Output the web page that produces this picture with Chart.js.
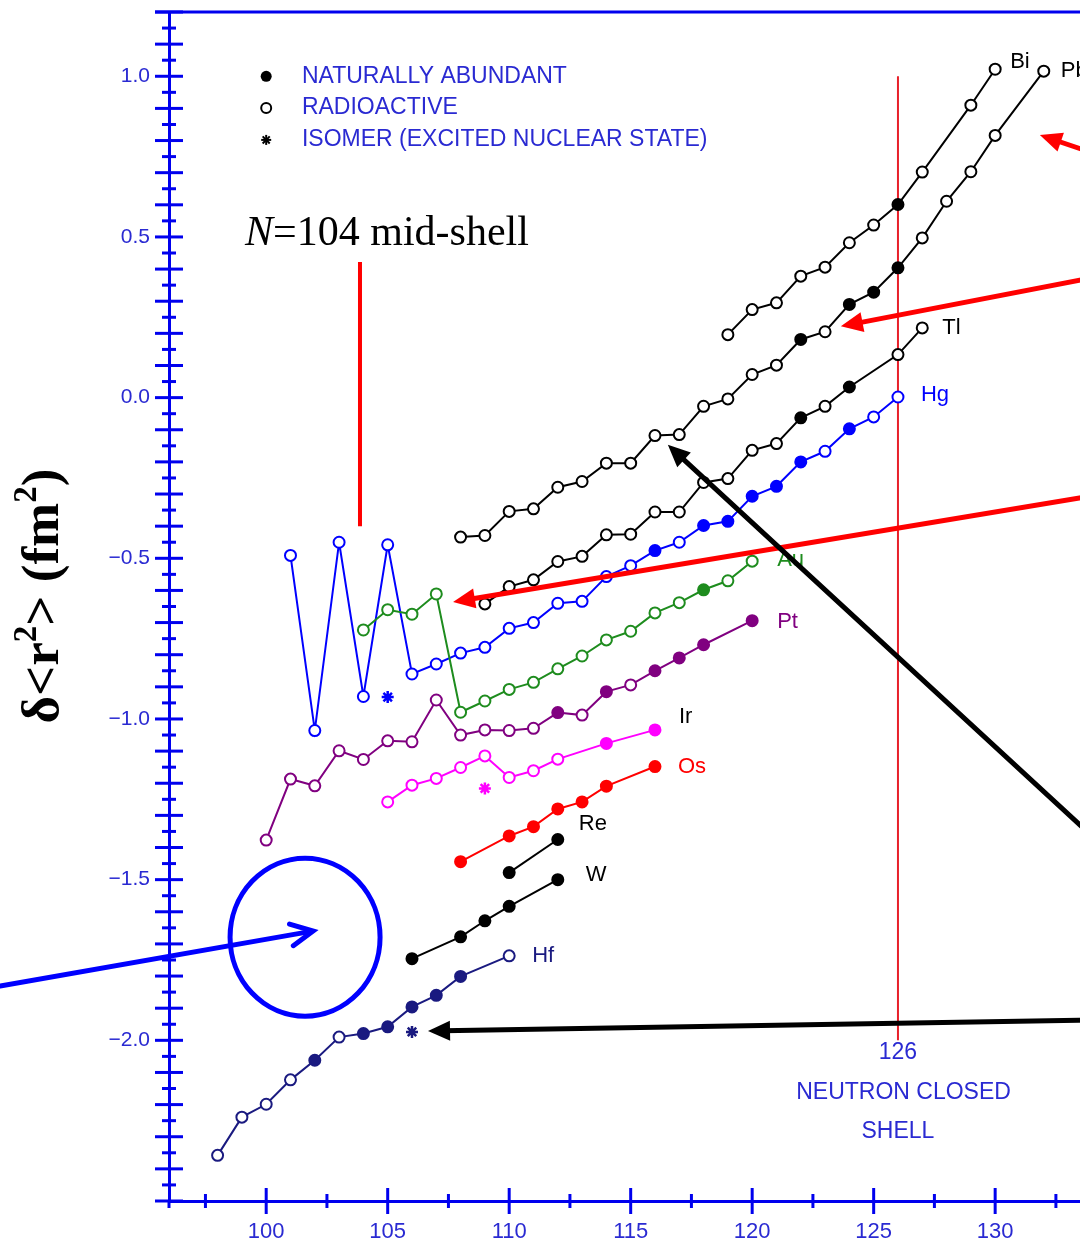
<!DOCTYPE html>
<html><head><meta charset="utf-8">
<script src="https://cdn.jsdelivr.net/npm/chart.js@4.4.1/dist/chart.umd.min.js"></script>
<style>
html,body{margin:0;padding:0;background:#fff;overflow:hidden;width:1080px;height:1240px}
#wrap{position:relative;width:1080px;height:1240px;overflow:hidden;background:#fff}
canvas{display:block}
</style></head>
<body><div id="wrap"><canvas id="c" width="1200" height="1240"></canvas></div>
<script>
// ---------- DATA (neutron number N, delta<r^2> in fm^2, 1 = naturally abundant) ----------
const hfN = [98,99,100,101,102,103,104,105,106,107,108,110];
const hfR = [-2.358,-2.239,-2.199,-2.123,-2.062,-1.990,-1.979,-1.958,-1.896,-1.860,-1.801,-1.737];
const hfNat = [0,0,0,0,1,0,1,1,1,1,1,0];

const wN = [106,108,109,110,112];
const wR = [-1.746,-1.678,-1.628,-1.583,-1.500];
const wNat = [1,1,1,1,1];

const reN = [110,112];
const reR = [-1.478,-1.375];
const reNat = [1,1];

const osN = [108,110,111,112,113,114,116];
const osR = [-1.444,-1.364,-1.335,-1.280,-1.258,-1.209,-1.148];
const osNat = [1,1,1,1,1,1,1];

const irN = [105,106,107,108,109,110,111,112,114,116];
const irR = [-1.258,-1.206,-1.185,-1.151,-1.115,-1.182,-1.161,-1.125,-1.076,-1.034];
const irNat = [0,0,0,0,0,0,0,0,1,1];

const ptN = [100,101,102,103,104,105,106,107,108,109,110,111,112,113,114,115,116,117,118,120];
const ptR = [-1.377,-1.187,-1.208,-1.099,-1.126,-1.068,-1.071,-0.941,-1.050,-1.034,-1.036,-1.029,-0.980,-0.988,-0.915,-0.894,-0.850,-0.810,-0.769,-0.694];
const ptNat = [0,0,0,0,0,0,0,0,0,0,0,0,1,0,1,0,1,1,1,1];

const auN = [104,105,106,107,108,109,110,111,112,113,114,115,116,117,118,119,120];
const auR = [-0.723,-0.660,-0.674,-0.611,-0.979,-0.944,-0.908,-0.886,-0.844,-0.804,-0.754,-0.727,-0.670,-0.638,-0.598,-0.570,-0.509];
const auNat = [0,0,0,0,0,0,0,0,0,0,0,0,0,0,1,0,0];

const hgN = [101,102,103,104,105,106,107,108,109,110,111,112,113,114,115,116,117,118,119,120,121,122,123,124,125,126];
const hgR = [-0.491,-1.036,-0.450,-0.930,-0.458,-0.860,-0.829,-0.795,-0.777,-0.718,-0.700,-0.640,-0.634,-0.557,-0.523,-0.476,-0.450,-0.398,-0.385,-0.307,-0.276,-0.200,-0.167,-0.097,-0.060,0.002];
const hgNat = [0,0,0,0,0,0,0,0,0,0,0,0,0,0,0,1,0,1,1,1,1,1,0,1,0,0];

const tlN = [109,110,111,112,113,114,115,116,117,118,119,120,121,122,123,124,126,127];
const tlR = [-0.642,-0.588,-0.567,-0.510,-0.494,-0.427,-0.425,-0.356,-0.356,-0.264,-0.252,-0.164,-0.143,-0.063,-0.027,0.033,0.134,0.217];
const tlNat = [0,0,0,0,0,0,0,0,0,0,0,0,0,1,0,1,0,0];

const pbN = [108,109,110,111,112,113,114,115,116,117,118,119,120,121,122,123,124,125,126,127,128,129,130,132];
const pbR = [-0.434,-0.429,-0.354,-0.346,-0.279,-0.261,-0.204,-0.204,-0.118,-0.115,-0.027,-0.004,0.072,0.101,0.181,0.205,0.290,0.328,0.404,0.497,0.611,0.703,0.816,1.016];
const pbNat = [0,0,0,0,0,0,0,0,0,0,0,0,0,0,1,0,1,1,1,0,0,0,0,0];

const biN = [119,120,121,122,123,124,125,126,127,129,130];
const biR = [0.196,0.274,0.295,0.378,0.406,0.482,0.537,0.601,0.702,0.910,1.022];
const biNat = [0,0,0,0,0,0,0,1,0,0,0];

// isomers (excited nuclear states)
const isoEl = ['Hf','Hg','Ir'];
const isoN = [106,105,109];
const isoR = [-1.974,-0.932,-1.216];

const xTickLabels = [100,105,110,115,120,125,130,135];
const yTickLabels = [-2.0,-1.5,-1.0,-0.5,0.0,0.5,1.0];
const legendTexts = ['NATURALLY ABUNDANT','RADIOACTIVE','ISOMER (EXCITED NUCLEAR STATE)'];

// ---------- STYLE ----------
const xMin = 96, xMax = 138.43, yMin = -2.5, yMax = 1.2;
const AXIS = '#0000ee', TXT = '#2a2ad2';
const COL = {Hf:'#1a1a80', W:'#000000', Re:'#000000', Os:'#ff0000', Ir:'#ff00ff', Pt:'#800080',
             Au:'#1e8c1e', Hg:'#0000ff', Tl:'#000000', Pb:'#000000', Bi:'#000000'};
const LABEL_COL = {Hf:'#1a1a80', W:'#000', Re:'#000', Os:'#ff0000', Ir:'#000', Pt:'#800080',
             Au:'#1e8c1e', Hg:'#0000ff', Tl:'#000', Pb:'#000', Bi:'#000'};
// label offsets (pixels) from each series' last point
const LABEL_OFF = {Bi:[15,-7], Pb:[17,0], Tl:[20,0], Hg:[23,-2], Au:[25,-1], Pt:[25,1],
                   Ir:[24,-13], Os:[23,0], Re:[21,-16], W:[28,-5], Hf:[23,0]};

const series = [
  ['Hf',hfN,hfR,hfNat],['W',wN,wR,wNat],['Re',reN,reR,reNat],['Os',osN,osR,osNat],
  ['Ir',irN,irR,irNat],['Pt',ptN,ptR,ptNat],['Au',auN,auR,auNat],['Hg',hgN,hgR,hgNat],
  ['Tl',tlN,tlR,tlNat],['Pb',pbN,pbR,pbNat],['Bi',biN,biR,biNat]
];

function mk(name,N,R,nat){
  const c = COL[name];
  return {label:name, data:N.map((n,i)=>({x:n,y:R[i]})), showLine:true,
    borderColor:c, borderWidth:2, tension:0, fill:false,
    pointStyle:'circle', pointRadius:5.5, pointBorderWidth:2, pointBorderColor:c,
    pointBackgroundColor:nat.map(f=>f?c:'#ffffff'), clip:false};
}
const datasets = series.map(s=>mk(...s));
datasets.push({label:'isomer', data:isoN.map((n,i)=>({x:n,y:isoR[i]})), showLine:false,
  pointStyle:'star', pointRadius:6, pointBorderWidth:2.5,
  pointBorderColor:isoEl.map(e=>COL[e]), pointBackgroundColor:isoEl.map(e=>COL[e]), clip:false});

// ---------- DECORATION PLUGIN ----------
function arrow(ctx,x1,y1,x2,y2,color,w,hl,hw,open){
  const a = Math.atan2(y2-y1,x2-x1), c=Math.cos(a), s=Math.sin(a);
  ctx.save();
  ctx.strokeStyle=color; ctx.fillStyle=color; ctx.lineWidth=w; ctx.lineCap='round';
  const ex = open ? x2 - c*2 : x2 - c*hl*0.7, ey = open ? y2 - s*2 : y2 - s*hl*0.7;
  ctx.beginPath(); ctx.moveTo(x1,y1); ctx.lineTo(ex,ey); ctx.stroke();
  const bx = x2 - c*hl, by = y2 - s*hl;
  if(open){
    ctx.lineJoin='miter';
    ctx.beginPath(); ctx.moveTo(bx - s*hw, by + c*hw); ctx.lineTo(x2,y2); ctx.lineTo(bx + s*hw, by - c*hw); ctx.stroke();
  } else {
    ctx.beginPath(); ctx.moveTo(x2,y2); ctx.lineTo(bx - s*hw, by + c*hw); ctx.lineTo(bx + s*hw, by - c*hw); ctx.closePath(); ctx.fill();
  }
  ctx.restore();
}

const deco = {
  id:'deco',
  beforeDatasetsDraw(chart){
    const {ctx, scales:{x,y}, chartArea:ca} = chart;
    ctx.save();
    ctx.strokeStyle=AXIS; ctx.lineWidth=3; ctx.lineCap='butt';
    const yt = y.getPixelForValue(yMax);
    ctx.beginPath(); ctx.moveTo(ca.left-14, yt); ctx.lineTo(chart.width, yt); ctx.stroke();
    ctx.beginPath(); ctx.moveTo(ca.left, ca.bottom); ctx.lineTo(ca.left, ca.bottom+7); ctx.stroke();
    for(let k=Math.ceil(yMin/0.05-1e-9); k<=Math.floor(yMax/0.05+1e-9); k++){
      const py = y.getPixelForValue(k*0.05), L = (k%2===0)?14:7;
      ctx.beginPath(); ctx.moveTo(ca.left-L,py); ctx.lineTo(ca.left+L,py); ctx.stroke();
    }
    for(let k=Math.ceil(xMin/2.5); k*2.5<=xMax; k++){
      const px = x.getPixelForValue(k*2.5), L = (k%2===0)?13:7;
      ctx.beginPath(); ctx.moveTo(px,ca.bottom-L); ctx.lineTo(px,ca.bottom+L); ctx.stroke();
    }
    // red vertical line: N=126 closed shell
    ctx.strokeStyle='#e8202a'; ctx.lineWidth=2;
    const x126 = x.getPixelForValue(126);
    ctx.beginPath(); ctx.moveTo(x126, y.getPixelForValue(1.0)); ctx.lineTo(x126, y.getPixelForValue(-2.0)); ctx.stroke();
    ctx.restore();
  },
  afterDatasetsDraw(chart){
    const {ctx, scales:{x,y}} = chart;
    const X = v=>x.getPixelForValue(v), Y = v=>y.getPixelForValue(v);
    ctx.save();
    // element labels
    ctx.font='22px "Liberation Sans"'; ctx.textAlign='left'; ctx.textBaseline='middle';
    series.forEach(([name,N,R])=>{
      const i=N.length-1, o=LABEL_OFF[name];
      ctx.fillStyle=LABEL_COL[name];
      ctx.fillText(name, X(N[i])+o[0], Y(R[i])+o[1]);
    });
    // legend
    const lx = X(100), ly = [1.0, 0.901, 0.802];
    ctx.fillStyle='#000'; ctx.strokeStyle='#000'; ctx.lineWidth=2;
    ctx.beginPath(); ctx.arc(lx, Y(ly[0]), 5.5, 0, Math.PI*2); ctx.fill();
    ctx.beginPath(); ctx.arc(lx, Y(ly[1]), 5, 0, Math.PI*2); ctx.stroke();
    const sy = Y(ly[2]);
    for(let a=0;a<4;a++){ const t=a*Math.PI/4; ctx.beginPath();
      ctx.moveTo(lx-Math.cos(t)*5, sy-Math.sin(t)*5); ctx.lineTo(lx+Math.cos(t)*5, sy+Math.sin(t)*5); ctx.stroke(); }
    ctx.fillStyle=TXT; ctx.font='23px "Liberation Sans"';
    legendTexts.forEach((t,i)=>ctx.fillText(t, X(101.47), Y(ly[i])));
    // closed shell text
    ctx.textAlign='center';
    ctx.fillText('126', X(126), Y(-2.039));
    ctx.fillText('NEUTRON CLOSED', X(126.23), Y(-2.164));
    ctx.fillText('SHELL', X(126), Y(-2.285));
    // N=104 mid-shell
    ctx.fillStyle='#000'; ctx.textAlign='left'; ctx.textBaseline='alphabetic';
    const tx = X(99.13), tb = Y(0.475);
    ctx.font='italic 42px "Liberation Serif"'; ctx.fillText('N', tx, tb);
    const wN_ = ctx.measureText('N').width;
    ctx.font='42px "Liberation Serif"'; ctx.fillText('=104 mid-shell', tx+wN_, tb);
    ctx.strokeStyle='#ff0000'; ctx.lineWidth=4; ctx.lineCap='butt';
    ctx.beginPath(); ctx.moveTo(X(103.86), Y(0.422)); ctx.lineTo(X(103.86), Y(-0.400)); ctx.stroke();
    // y axis title
    ctx.save();
    ctx.translate(58, 596); ctx.rotate(-Math.PI/2);
    const big='bold 53px "Liberation Serif"', sup='bold 33px "Liberation Serif"';
    const parts=[['δ<r',big,0],['2',sup,-22],['> (fm',big,0],['2',sup,-22],[')',big,0]];
    let tw=0; parts.forEach(p=>{ctx.font=p[1]; tw+=ctx.measureText(p[0]).width;});
    let cx=-tw/2; ctx.fillStyle='#000'; ctx.textAlign='left';
    parts.forEach(p=>{ctx.font=p[1]; ctx.fillText(p[0], cx, p[2]); cx+=ctx.measureText(p[0]).width;});
    ctx.restore();
    // blue circle + arrow
    ctx.strokeStyle='#0000ff'; ctx.lineWidth=5;
    ctx.beginPath(); ctx.ellipse(X(101.60), Y(-1.679), 75, 79, 0, 0, Math.PI*2); ctx.stroke();
    arrow(ctx, X(89.05), Y(-1.831), X(101.93), Y(-1.660), '#0000ff', 5, 22, 11, true);
    // red arrows
    arrow(ctx, X(138.43), Y(0.649), X(131.84), Y(0.817), '#ff0000', 5, 22, 10, false);
    arrow(ctx, X(138.43), Y(0.438), X(123.65), Y(0.222), '#ff0000', 5, 22, 10, false);
    arrow(ctx, X(138.43), Y(-0.250), X(107.69), Y(-0.636), '#ff0000', 5, 22, 10, false);
    // black arrows
    arrow(ctx, X(138.43), Y(-1.674), X(116.53), Y(-0.147), '#000000', 5, 22, 10, false);
    arrow(ctx, X(138.43), Y(-1.931), X(106.66), Y(-1.971), '#000000', 5, 22, 10, false);
    ctx.restore();
  }
};

const fmtY = v => (v<0?'\u2212':'') + Math.abs(v).toFixed(1);

new Chart(document.getElementById('c'), {
  type:'scatter',
  data:{datasets},
  options:{
    responsive:false, animation:false, devicePixelRatio:1,
    layout:{padding:{top:12,right:0,bottom:0,left:0}, autoPadding:false},
    plugins:{legend:{display:false}, tooltip:{enabled:false}},
    scales:{
      x:{type:'linear', min:xMin, max:xMax, position:'bottom',
        afterFit(s){ s.height=39; s.paddingLeft=0; s.paddingRight=0; },
        afterBuildTicks(s){ s.ticks = xTickLabels.map(v=>({value:v})); },
        grid:{display:false, drawTicks:false},
        border:{display:true, color:AXIS, width:3},
        ticks:{color:TXT, font:{family:'Liberation Sans', size:22}, padding:18, maxRotation:0, autoSkip:false,
          callback:v=>String(v)}
      },
      y:{type:'linear', min:yMin, max:yMax,
        afterFit(s){ s.width=169; s.paddingTop=0; s.paddingBottom=0; },
        afterBuildTicks(s){ s.ticks = yTickLabels.map(v=>({value:v})); },
        grid:{display:false, drawTicks:false},
        border:{display:true, color:AXIS, width:3},
        ticks:{color:TXT, font:{family:'Liberation Sans', size:21}, padding:19, autoSkip:false,
          callback:v=>fmtY(v)}
      }
    }
  },
  plugins:[deco]
});
</script></body></html>
